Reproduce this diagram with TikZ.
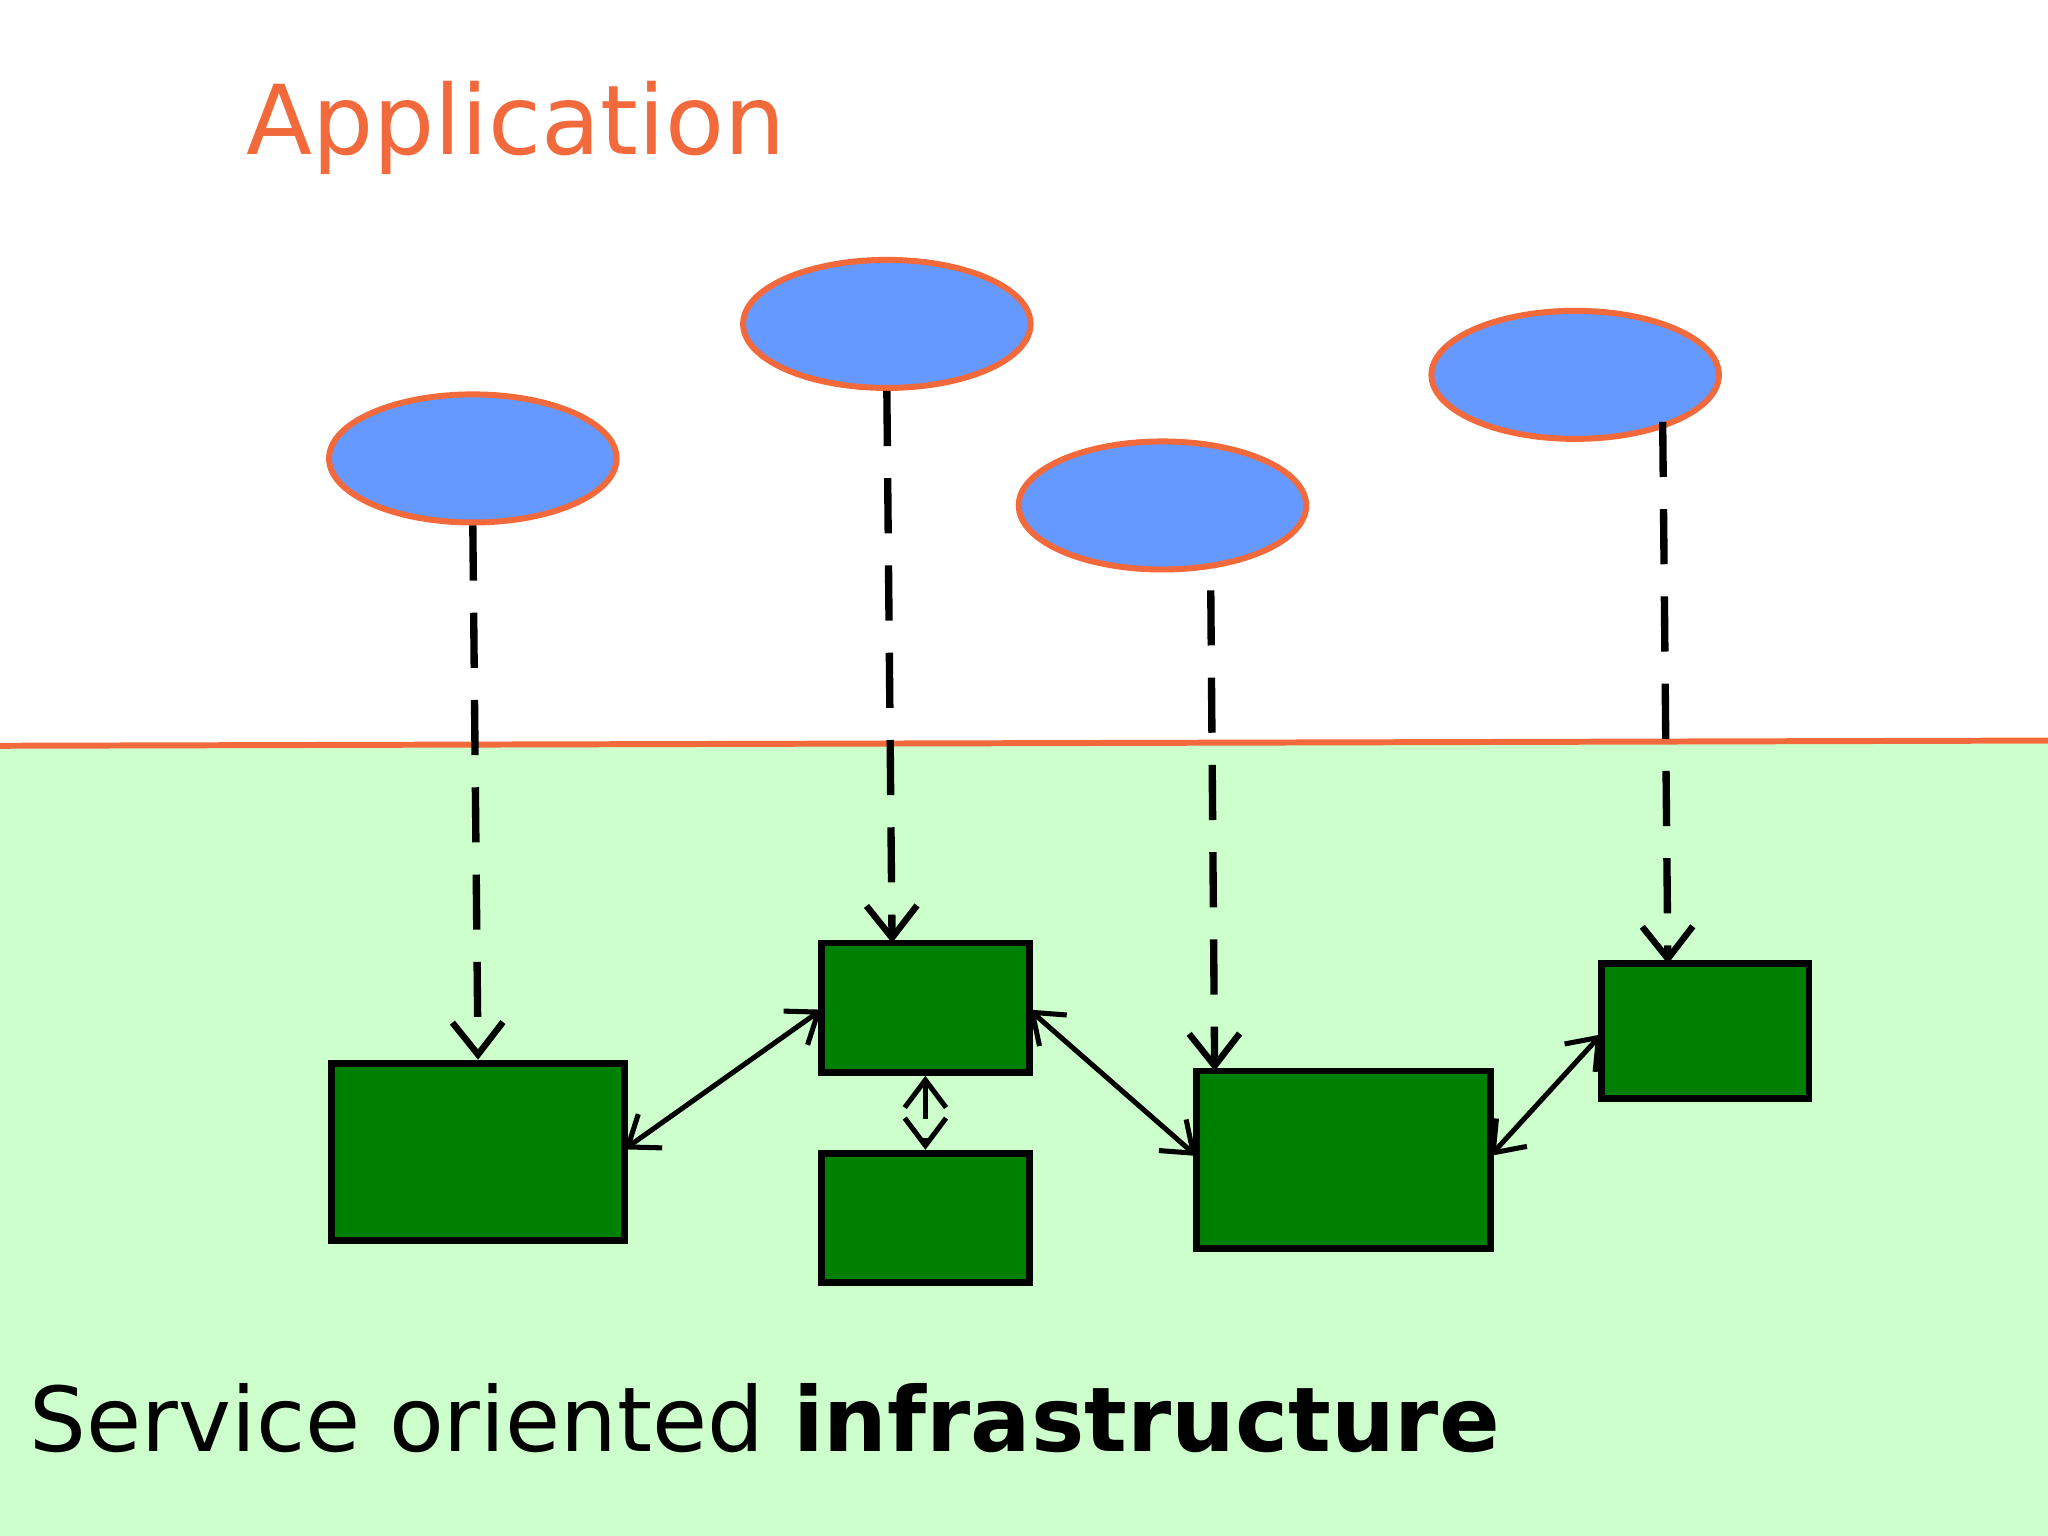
\documentclass[tikz,border=0pt]{standalone}
\usepackage{fontspec}
\setmainfont{DejaVu Sans}
\usetikzlibrary{arrows.meta,shapes.geometric}
\definecolor{appor}{HTML}{F26A3B}
\definecolor{appbl}{HTML}{6699FF}
\definecolor{infgr}{HTML}{CCFFCC}
\definecolor{svgr}{HTML}{008000}
\begin{document}
\begin{tikzpicture}[x=0.01cm,y=-0.01cm,
  app/.style={ellipse,draw=appor,line width=1.3pt,fill=appbl,minimum width=2.2cm,minimum height=0.98cm,inner sep=0pt},
  svc/.style={draw=black,line width=1.5pt,fill=svgr,inner sep=0pt},
  map/.style={dashed,dash pattern=on 12pt off 7pt,line width=1.6pt,-{Straight Barb[length=7pt,width=11pt,line width=1.4pt]}},
  link/.style={line width=1.1pt,{Straight Barb[length=6pt,width=9pt]}-{Straight Barb[length=6pt,width=9pt]}}]
\useasboundingbox (0,0) rectangle (1568,1176);
\fill[infgr] (0,570) rectangle (1568,1176);
\draw[appor,line width=1.3pt] (0,571) -- (1568,567);
\node[text=appor,font=\fontsize{21}{24}\selectfont,anchor=base west,inner sep=0pt] (title) at (188,118) {Application};
\node[font=\fontsize{19.5}{23}\selectfont,anchor=base west,inner sep=0pt] (foot) at (22,1111) {Service oriented \textbf{infrastructure}};
\node[app] (e1) at (362,351) {};
\node[app] (e2) at (679,248) {};
\node[app] (e3) at (890,387) {};
\node[app] (e4) at (1206,287) {};
\node[svc,minimum width=2.24cm,minimum height=1.36cm] (r1) at (366,882) {};
\node[svc,minimum width=1.59cm,minimum height=0.99cm] (r2) at (708.5,771.5) {};
\node[svc,minimum width=1.59cm,minimum height=0.99cm] (r3) at (708.5,932.5) {};
\node[svc,minimum width=2.25cm,minimum height=1.36cm] (r4) at (1028.5,888) {};
\node[svc,minimum width=1.59cm,minimum height=1.03cm] (r5) at (1305.5,789.5) {};
\coordinate (s3) at (927,452);
\coordinate (t3) at (930,820);
\coordinate (s4) at (1273,323);
\coordinate (t4) at (1277,738);
\draw[map] (e1.south) -- (r1.north);
\draw[map] (e2.south) -- (683,722);
\draw[map] (s3) -- (t3);
\draw[map] (s4) -- (t4);
\draw[link] (478,880) -- (629,773);
\draw[link,dashed,dash pattern=on 8pt off 4pt] (r2.south) -- (r3.north);
\draw[link] (788,773) -- (916,885);
\draw[link] (1141,885) -- (1226,792);
\end{tikzpicture}
\end{document}
